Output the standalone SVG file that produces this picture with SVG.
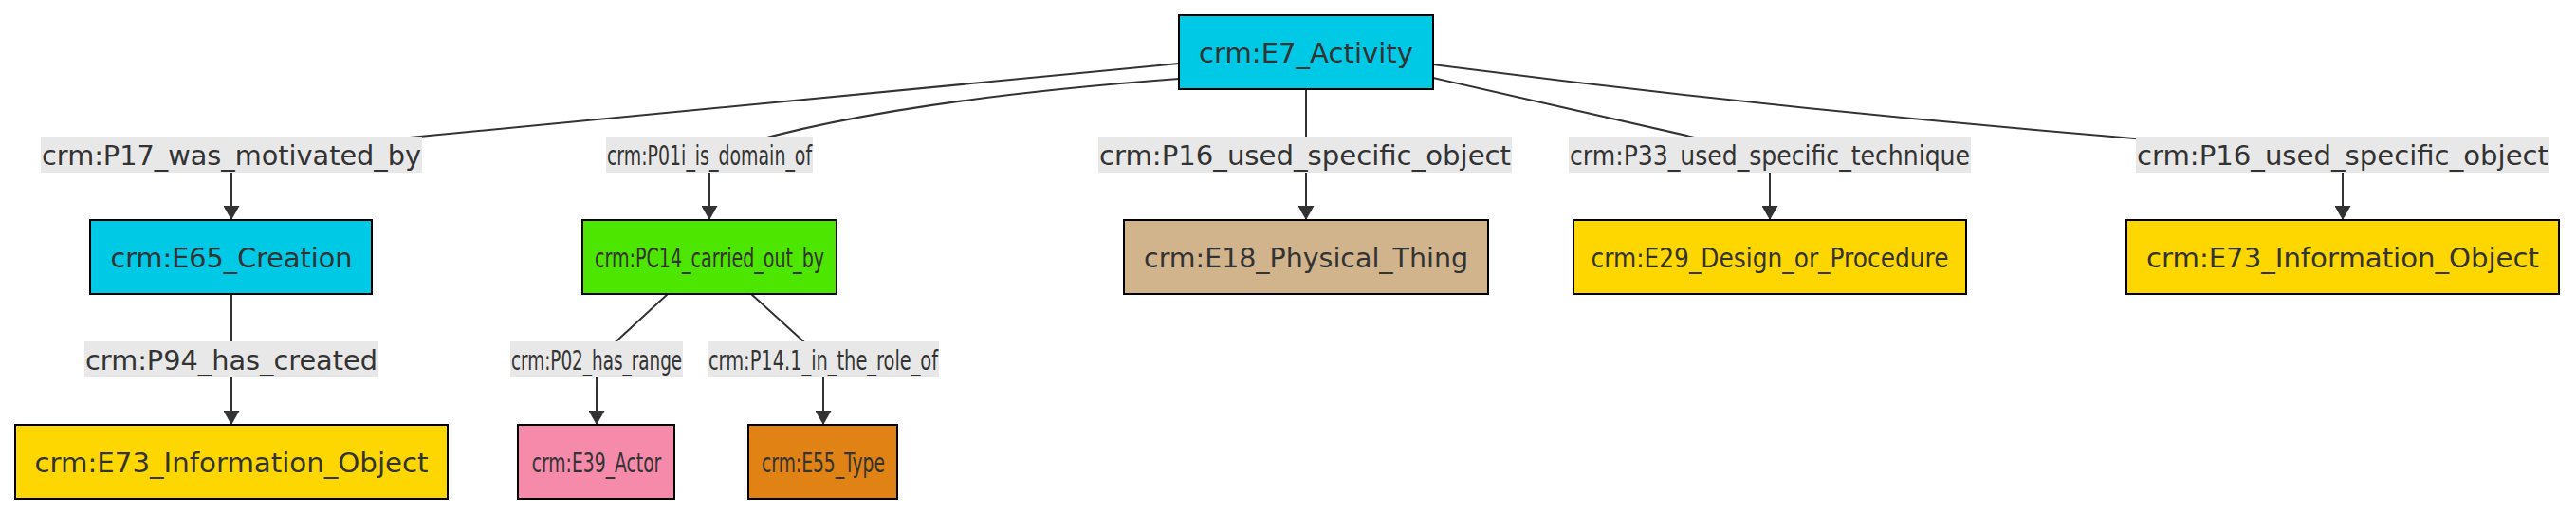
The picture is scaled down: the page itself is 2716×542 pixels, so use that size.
<svg xmlns="http://www.w3.org/2000/svg" width="2716" height="542" viewBox="0 0 2716 542">
<style>
.node rect{stroke:#000;stroke-width:2}
text{font-family:"DejaVu Sans","Liberation Sans",sans-serif;font-size:28px;fill:#333;text-anchor:middle}
.edge{fill:none;stroke:#333;stroke-width:2}
.lbl rect{fill:#e8e8e8;stroke:none}
.cyan{fill:#00c9e6}.green{fill:#4ce600}.tan{fill:#d2b48c}.gold{fill:#ffd700}.pink{fill:#f58aab}.orange{fill:#e08214}
</style>
<defs>
<marker id="arr" viewBox="0 0 15 17" refX="15" refY="8.5" markerWidth="15" markerHeight="17" markerUnits="userSpaceOnUse" orient="auto">
<path d="M0,0 L15,8.5 L0,17 z" fill="#333"/>
</marker>
</defs>
<rect width="2716" height="542" fill="#fff"/>
<g id="connectors">
<path class="edge" d="M1243,67 L244,163 L244,232" marker-end="url(#arr)"/>
<path class="edge" d="M1243,83 Q910,108 748,163 L748,232" marker-end="url(#arr)"/>
<path class="edge" d="M1377,94 L1377,232" marker-end="url(#arr)"/>
<path class="edge" d="M1511,82 L1866,163 L1866,232" marker-end="url(#arr)"/>
<path class="edge" d="M1511,68 Q1975,128 2470,163 L2470,232" marker-end="url(#arr)"/>
<path class="edge" d="M244,310 L244,448" marker-end="url(#arr)"/>
<path class="edge" d="M704,310 L629,379 L629,448" marker-end="url(#arr)"/>
<path class="edge" d="M792,310 L868,379 L868,448" marker-end="url(#arr)"/>
</g>
<g id="edge-labels">
<g class="lbl"><rect x="43" y="144" width="402" height="38"/><text x="244" y="174" textLength="400" lengthAdjust="spacingAndGlyphs">crm:P17_was_motivated_by</text></g>
<g class="lbl"><rect x="639" y="144" width="218" height="38"/><text transform="translate(748,174) scale(0.68,1)" x="0" y="0" textLength="318" lengthAdjust="spacingAndGlyphs">crm:P01i_is_domain_of</text></g>
<g class="lbl"><rect x="1158" y="144" width="436" height="38"/><text x="1376" y="174" textLength="434" lengthAdjust="spacingAndGlyphs">crm:P16_used_specific_object</text></g>
<g class="lbl"><rect x="1654" y="144" width="424" height="38"/><text x="1866" y="174" textLength="422" lengthAdjust="spacingAndGlyphs">crm:P33_used_specific_technique</text></g>
<g class="lbl"><rect x="2252" y="144" width="436" height="38"/><text x="2470" y="174" textLength="434" lengthAdjust="spacingAndGlyphs">crm:P16_used_specific_object</text></g>
<g class="lbl"><rect x="89" y="360" width="310" height="38"/><text x="244" y="390" textLength="308" lengthAdjust="spacingAndGlyphs">crm:P94_has_created</text></g>
<g class="lbl"><rect x="538" y="360" width="182" height="38"/><text transform="translate(629,390) scale(0.68,1)" x="0" y="0" textLength="265" lengthAdjust="spacingAndGlyphs">crm:P02_has_range</text></g>
<g class="lbl"><rect x="746" y="360" width="244" height="38"/><text transform="translate(868,390) scale(0.68,1)" x="0" y="0" textLength="356" lengthAdjust="spacingAndGlyphs">crm:P14.1_in_the_role_of</text></g>
</g>
<g id="E7" class="node"><rect class="cyan" x="1243" y="16" width="268" height="78"/><text x="1377" y="66" textLength="226" lengthAdjust="spacingAndGlyphs">crm:E7_Activity</text></g>
<g id="E65" class="node"><rect class="cyan" x="95" y="232" width="297" height="78"/><text x="244" y="282" textLength="255" lengthAdjust="spacingAndGlyphs">crm:E65_Creation</text></g>
<g id="PC14" class="node"><rect class="green" x="614" y="232" width="268" height="78"/><text transform="translate(748,282) scale(0.68,1)" x="0" y="0" textLength="356" lengthAdjust="spacingAndGlyphs">crm:PC14_carried_out_by</text></g>
<g id="E18" class="node"><rect class="tan" x="1185" y="232" width="384" height="78"/><text x="1377" y="282" textLength="342" lengthAdjust="spacingAndGlyphs">crm:E18_Physical_Thing</text></g>
<g id="E29" class="node"><rect class="gold" x="1659" y="232" width="414" height="78"/><text x="1866" y="282" textLength="377" lengthAdjust="spacingAndGlyphs">crm:E29_Design_or_Procedure</text></g>
<g id="E73b" class="node"><rect class="gold" x="2242" y="232" width="456" height="78"/><text x="2470" y="282" textLength="414" lengthAdjust="spacingAndGlyphs">crm:E73_Information_Object</text></g>
<g id="E73a" class="node"><rect class="gold" x="16" y="448" width="456" height="78"/><text x="244" y="498" textLength="415" lengthAdjust="spacingAndGlyphs">crm:E73_Information_Object</text></g>
<g id="E39" class="node"><rect class="pink" x="546" y="448" width="165" height="78"/><text transform="translate(629,498) scale(0.68,1)" x="0" y="0" textLength="201" lengthAdjust="spacingAndGlyphs">crm:E39_Actor</text></g>
<g id="E55" class="node"><rect class="orange" x="789" y="448" width="157" height="78"/><text transform="translate(868,498) scale(0.68,1)" x="0" y="0" textLength="191" lengthAdjust="spacingAndGlyphs">crm:E55_Type</text></g>
</svg>
